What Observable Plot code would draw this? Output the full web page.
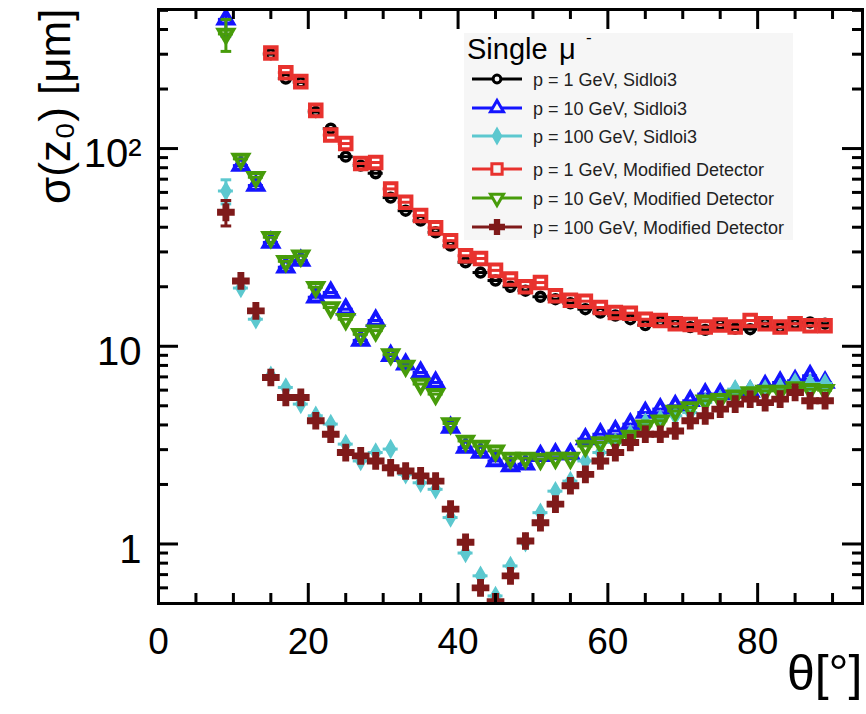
<!DOCTYPE html>
<html><head><meta charset="utf-8">
<script src="https://cdn.jsdelivr.net/npm/d3@7"></script>
<script src="https://cdn.jsdelivr.net/npm/@observablehq/plot@0.6"></script>
<style>
body{margin:0;background:#fff;}
#wrap{position:relative;width:866px;height:714px;font-family:Arial,"Liberation Sans",Helvetica,sans-serif;}
#legend{position:absolute;left:0;top:0;pointer-events:none;}
</style></head><body><div id="wrap"></div>
<script>
// polar angle theta [deg]
const theta = [9,11,13,15,17,19,21,23,25,27,29,31,33,35,37,39,41,43,45,47,49,51,53,55,57,59,61,63,65,67,69,71,73,75,77,79,81,83,85,87,89];

// sigma(z0) [um]
const p1Sidloi3 = [null,null,null,300,226,216,153,126,91,82,75,56.5,48.5,43.2,37.7,32.3,26.6,23.6,21.5,20,19.1,17.8,17.3,16.5,15.4,14.8,14.3,13.7,12.8,13.4,13.0,12.5,12.1,12.9,12.3,12.2,13.1,12.4,13.0,13.2,13.0];
const p10Sidloi3 = [450,82,65,33.5,25.1,27.1,17.7,18.7,15.4,10.7,13.5,8.96,8.1,7.37,6.56,3.88,3.07,2.90,2.63,2.48,2.53,2.79,2.85,2.85,3.39,3.59,3.73,4.04,4.62,4.81,5.0,5.30,5.73,5.73,5.84,5.9,6.31,6.56,6.69,7.09,6.56];
const p100Sidloi3 = [61,19.7,13.7,7.1,6.19,5.10,4.45,4.04,3.20,2.63,2.90,3.02,2.25,2.04,1.89,1.36,0.90,0.69,0.546,0.774,1.02,1.44,1.85,2.08,2.63,2.90,3.26,3.59,4.11,4.28,4.45,4.62,5.19,5.4,6.07,6.07,6.07,6.19,6.56,6.5,6.5];
const p1Modified = [null,null,null,304,242,218,156,117,106,84,85,62.5,53.5,45.8,39.7,34.2,28.7,27.8,24.2,21.9,20.0,21.0,18.0,17.1,16.9,15.7,14.8,14.7,13.7,13.5,13.0,12.9,12.5,12.8,12.5,13.5,13.0,12.5,13.0,12.7,12.7];
const p10Modified = [380,88.7,71.6,35.6,26.9,28.7,19.9,15.7,13.7,11.5,12.0,9.1,7.96,6.44,5.73,4.07,3.32,3.13,2.96,2.72,2.72,2.69,2.72,2.72,3.13,3.26,3.32,3.52,3.96,4.20,4.71,4.90,5.30,5.40,5.62,5.84,5.95,5.95,6.19,6.07,6.0];
const p100Modified = [47.6,21.4,15.1,6.95,5.51,5.51,4.20,3.59,2.90,2.79,2.63,2.43,2.34,2.21,2.08,1.50,1.02,0.60,0.51,0.69,1.035,1.28,1.59,1.97,2.25,2.63,2.90,3.26,3.59,3.59,3.73,4.20,4.45,4.81,5.10,5.40,5.19,5.40,5.84,5.30,5.30];

// visible vertical error bars: [series index, theta, error]
const yErrors = [[1,9,80],[2,9,8.5],[4,9,70],[5,9,7]];

const seriesLabels = ["p = 1 GeV, Sidloi3","p = 10 GeV, Sidloi3","p = 100 GeV, Sidloi3","p = 1 GeV, Modified Detector","p = 10 GeV, Modified Detector","p = 100 GeV, Modified Detector"];
const seriesValues = [p1Sidloi3,p10Sidloi3,p100Sidloi3,p1Modified,p10Modified,p100Modified];
const seriesColors = ["#000000","#1414ff","#5cc8cf","#e8322e","#479c0a","#7f1a1a"];

const xMajor = [0,20,40,60,80];
const xMinor = [5,10,15,25,30,35,45,50,55,65,70,75,85,90];
const yMajor = [1,10,100];
const yMinor = [0.6,0.7,0.8,0.9,2,3,4,5,6,7,8,9,20,30,40,50,60,70,80,90,200,300,400,500];

const triangleDown = {draw(c, size){ const y = -Math.sqrt(size/(Math.sqrt(3)*3)); c.moveTo(0,-y*2); c.lineTo(-Math.sqrt(3)*y, y); c.lineTo(Math.sqrt(3)*y, y); c.closePath(); }};
const hline = {draw(c, size){ const w = Math.sqrt(size)/2; c.moveTo(-w,0); c.lineTo(w,0); }};
const styles = [
  {symbol:"circle", r:4.4, fill:"none", sw:3.6},
  {symbol:"triangle", r:5.4, fill:"none", sw:4},
  {symbol:"diamond", r:5, fill:seriesColors[2], sw:2},
  {symbol:"square", r:6.5, fill:"none", sw:4},
  {symbol:triangleDown, r:5.4, fill:"none", sw:4},
  {symbol:"cross", r:6.8, fill:seriesColors[5], sw:1.5}
];

const W=866, H=714, mL=158, mR=4, mT=9, mB=111;
const pW = W-mL-mR, pH = H-mT-mB;

const rows = seriesValues.map((vals,si)=>theta.map((t,i)=>({s:si,theta:t,v:vals[i]})).filter(d=>d.v!=null));
const errRows = yErrors.map(([s,t,e])=>{ const v = seriesValues[s][theta.indexOf(t)]; return {s, theta:t, lo:v-e, hi:v+e}; });

const marks = [];
rows.forEach((data,si)=>{
  const st = styles[si], col = seriesColors[si];
  const errs = errRows.filter(d=>d.s===si);
  marks.push(Plot.ruleX(errs,{x:"theta",y1:"lo",y2:"hi",stroke:col,strokeWidth:3,clip:true}));
  marks.push(Plot.dot(errs,{x:"theta",y:"lo",symbol:hline,r:6,stroke:col,strokeWidth:3,clip:true}));
  marks.push(Plot.dot(errs,{x:"theta",y:"hi",symbol:hline,r:6,stroke:col,strokeWidth:3,clip:true}));
  marks.push(Plot.ruleY(data,{y:"v",x1:d=>d.theta-1,x2:d=>d.theta+1,stroke:col,strokeWidth:3,clip:true}));
  marks.push(Plot.dot(data,{x:"theta",y:"v",symbol:st.symbol,r:st.r,stroke:col,fill:st.fill,strokeWidth:st.sw,clip:true}));
});

const tick = {stroke:"#000", strokeWidth:3};
const plot = Plot.plot({
  width: W, height: H,
  marginLeft: mL, marginRight: mR, marginTop: mT, marginBottom: mB,
  style: {fontFamily: "Arial, 'Liberation Sans', Helvetica, sans-serif", color:"#000", background:"#fff"},
  x: {domain:[0,94]},
  y: {type:"log", domain:[0.5,505]},
  marks: [
    ...marks,
    Plot.ruleX(xMajor,{x:d=>d,insetTop:pH-20,...tick}),
    Plot.ruleX(xMinor,{x:d=>d,insetTop:pH-10,...tick}),
    Plot.ruleX(xMajor,{x:d=>d,insetBottom:pH-20,...tick}),
    Plot.ruleX(xMinor,{x:d=>d,insetBottom:pH-10,...tick}),
    Plot.ruleY(yMajor,{y:d=>d,insetRight:pW-20,...tick}),
    Plot.ruleY(yMinor,{y:d=>d,insetRight:pW-10,...tick}),
    Plot.ruleY(yMajor,{y:d=>d,insetLeft:pW-20,...tick}),
    Plot.ruleY(yMinor,{y:d=>d,insetLeft:pW-10,...tick}),
    Plot.frame({stroke:"#000", strokeWidth:3}),
    Plot.axisX(xMajor,{anchor:"bottom",tickSize:0,tickPadding:24,fontSize:37,label:null,tickFormat:d=>String(d)}),
    Plot.axisY(yMajor,{anchor:"left",tickSize:0,tickPadding:17,fontSize:40,label:null,dy:6,tickFormat:d=>d===100?"10²":String(d)}),
    Plot.text(["σ(z₀) [μm]"],{frameAnchor:"top-left",rotate:-90,textAnchor:"end",dx:-120,dy:-1,fontSize:44}),
    Plot.text(["θ[°]"],{frameAnchor:"bottom-right",textAnchor:"end",dx:0,dy:86,fontSize:50})
  ]
});
const wrap = document.getElementById("wrap");
wrap.appendChild(plot);

// legend overlay
const lg = d3.select(wrap).append("svg").attr("id","legend").attr("width",W).attr("height",H)
  .style("font-family","Arial, 'Liberation Sans', Helvetica, sans-serif");
lg.append("rect").attr("x",464).attr("y",33).attr("width",329).attr("height",207).attr("fill","#f6f6f6");
lg.append("text").attr("x",467).attr("y",59).attr("font-size",29).text("Single");
lg.append("text").attr("x",559).attr("y",59).attr("font-size",29).text("μ");
lg.append("text").attr("x",586).attr("y",43).attr("font-size",17).text("-");
const rowY = [79,108,136,169,198,227];
const symMap = {circle:d3.symbolCircle, triangle:d3.symbolTriangle, diamond:d3.symbolDiamond, square:d3.symbolSquare, cross:d3.symbolCross};
seriesLabels.forEach((lab,i)=>{
  const y = rowY[i], col = seriesColors[i], st = styles[i];
  lg.append("line").attr("x1",472).attr("x2",522).attr("y1",y).attr("y2",y).attr("stroke",col).attr("stroke-width",3);
  const sym = typeof st.symbol === "string" ? symMap[st.symbol] : st.symbol;
  lg.append("path").attr("d",d3.symbol(sym, st.r*st.r*Math.PI*0.8)()).attr("transform",`translate(497,${y})`)
    .attr("fill", st.fill==="none" ? "#f6f6f6" : st.fill).attr("stroke",col).attr("stroke-width",Math.min(st.sw,3));
  lg.append("text").attr("x",533).attr("y",y+6.5).attr("font-size",18).attr("fill","#222").text(lab);
});
</script></body></html>
